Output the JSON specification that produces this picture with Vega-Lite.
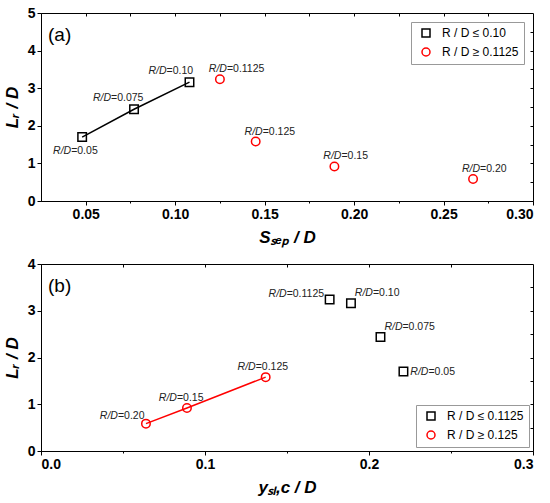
{
  "$schema": "https://vega.github.io/schema/vega-lite/v6.json",
  "padding": {"left": 2, "top": 5, "right": 5, "bottom": 5},
  "spacing": 10,
  "config": {
    "font": "Liberation Sans",
    "view": {"stroke": "black", "strokeWidth": 1},
    "axis": {"grid": false, "domainColor": "black", "tickColor": "black", "labelColor": "black", "titleColor": "black", "labelFontSize": 14, "labelFontWeight": "bold", "titleFontSize": 17, "titleFontWeight": "bold", "titleFontStyle": "italic", "labelFont": "Liberation Sans", "titleFont": "Liberation Sans", "tickWidth": 1, "domainWidth": 1},
    "legend": {"labelFont": "Liberation Sans", "labelFontSize": 12, "labelColor": "black", "symbolSize": 64, "symbolStrokeWidth": 1.5, "strokeColor": "#999", "fillColor": "white", "padding": 5, "rowPadding": 5, "symbolOffset": 4, "labelOffset": 10}
  },
  "datasets": {
    "a": [
      {"x": 0.048, "y": 1.70, "g": "R / D ≤ 0.10", "rd": "=0.05", "pl": "bl"},
      {"x": 0.077, "y": 2.44, "g": "R / D ≤ 0.10", "rd": "=0.075", "pl": "al"},
      {"x": 0.108, "y": 3.16, "g": "R / D ≤ 0.10", "rd": "=0.10", "pl": "al"},
      {"x": 0.125, "y": 3.24, "g": "R / D ≥ 0.1125", "rd": "=0.1125", "pl": "ar"},
      {"x": 0.145, "y": 1.58, "g": "R / D ≥ 0.1125", "rd": "=0.125", "pl": "ar"},
      {"x": 0.189, "y": 0.92, "g": "R / D ≥ 0.1125", "rd": "=0.15", "pl": "ar"},
      {"x": 0.2665, "y": 0.585, "g": "R / D ≥ 0.1125", "rd": "=0.20", "pl": "ar"}
    ],
    "b": [
      {"x": 0.221, "y": 1.70, "g": "R / D ≤ 0.1125", "rd": "=0.05", "pl": "e"},
      {"x": 0.207, "y": 2.44, "g": "R / D ≤ 0.1125", "rd": "=0.075", "pl": "ne"},
      {"x": 0.189, "y": 3.16, "g": "R / D ≤ 0.1125", "rd": "=0.10", "pl": "ne"},
      {"x": 0.176, "y": 3.24, "g": "R / D ≤ 0.1125", "rd": "=0.1125", "pl": "ww"},
      {"x": 0.137, "y": 1.58, "g": "R / D ≥ 0.125", "rd": "=0.125", "pl": "nw"},
      {"x": 0.089, "y": 0.92, "g": "R / D ≥ 0.125", "rd": "=0.15", "pl": "nw"},
      {"x": 0.064, "y": 0.585, "g": "R / D ≥ 0.125", "rd": "=0.20", "pl": "w"}
    ]
  },
  "resolve": {"scale": {"color": "independent", "shape": "independent"}},
  "vconcat": [
    {
      "width": 492, "height": 188,
      "title": {"text": "(a)", "anchor": "start", "frame": "group", "offset": -39, "dx": 7, "fontSize": 19, "fontWeight": "normal", "font": "Liberation Sans", "color": "black"},
      "data": {"name": "a"},
      "resolve": {"axis": {"x": "independent", "y": "independent"}},
      "layer": [
        {
          "transform": [{"filter": "datum.g === 'R / D ≤ 0.10'"}],
          "mark": {"type": "line", "color": "black", "strokeWidth": 1.5},
          "encoding": {
            "x": {"field": "x", "type": "quantitative", "scale": {"domain": [0.025, 0.30], "nice": false, "zero": false},
              "axis": {"orient": "top", "labels": false, "domain": false, "title": null, "tickSize": -3, "values": [0.05, 0.075, 0.1, 0.125, 0.15, 0.175, 0.2, 0.225, 0.25, 0.275]}},
            "y": {"field": "y", "type": "quantitative", "scale": {"domain": [0, 5], "nice": false},
              "axis": {"orient": "right", "labels": false, "domain": false, "title": null, "tickSize": -3, "values": [0.5, 1, 1.5, 2, 2.5, 3, 3.5, 4, 4.5]}}
          }
        },
        {
          "mark": {"type": "point", "filled": false, "strokeWidth": 1.5, "size": 72, "opacity": 1},
          "encoding": {
            "x": {"field": "x", "type": "quantitative", "scale": {"domain": [0.025, 0.30], "nice": false, "zero": false},
              "axis": {"orient": "bottom", "title": "Sₛₑₚ / D", "titlePadding": 8, "format": ".2f",
                "values": [0.05, 0.075, 0.1, 0.125, 0.15, 0.175, 0.2, 0.225, 0.25, 0.275, 0.3],
                "labelExpr": "round(datum.value*1000) % 50 !== 0 ? '' : datum.label",
                "tickSize": {"condition": {"test": "round(datum.value*1000) % 50 !== 0", "value": 2}, "value": 4}}},
            "y": {"field": "y", "type": "quantitative", "scale": {"domain": [0, 5], "nice": false},
              "axis": {"orient": "left", "title": "Lᵣ / D", "titlePadding": 6, "format": "d",
                "values": [0, 0.5, 1, 1.5, 2, 2.5, 3, 3.5, 4, 4.5, 5],
                "labelExpr": "datum.value % 1 !== 0 ? '' : datum.label",
                "tickSize": {"condition": {"test": "datum.value % 1 !== 0", "value": 2}, "value": 4}}},
            "shape": {"field": "g", "type": "nominal", "scale": {"domain": ["R / D ≤ 0.10", "R / D ≥ 0.1125"], "range": ["square", "circle"]}, "legend": {"title": null, "orient": "top-right", "offset": 9}},
            "color": {"field": "g", "type": "nominal", "scale": {"domain": ["R / D ≤ 0.10", "R / D ≥ 0.1125"], "range": ["black", "red"]}, "legend": {"title": null, "orient": "top-right", "offset": 9}}
          }
        },
        {"transform": [{"filter": "datum.pl === 'bl'"}], "mark": {"type": "text", "text": "R/D", "fontStyle": "italic", "fontSize": 10.5, "color": "#222", "align": "right", "baseline": "middle", "dx": -11, "dy": 14},
          "encoding": {"x": {"field": "x", "type": "quantitative", "axis": null}, "y": {"field": "y", "type": "quantitative", "axis": null}}},
        {"transform": [{"filter": "datum.pl === 'bl'"}], "mark": {"type": "text", "fontSize": 10.5, "color": "#222", "align": "left", "baseline": "middle", "dx": -11, "dy": 14},
          "encoding": {"x": {"field": "x", "type": "quantitative", "axis": null}, "y": {"field": "y", "type": "quantitative", "axis": null}, "text": {"field": "rd"}}},
        {"transform": [{"filter": "datum.pl === 'al'"}], "mark": {"type": "text", "text": "R/D", "fontStyle": "italic", "fontSize": 10.5, "color": "#222", "align": "right", "baseline": "middle", "dx": -23, "dy": -11},
          "encoding": {"x": {"field": "x", "type": "quantitative", "axis": null}, "y": {"field": "y", "type": "quantitative", "axis": null}}},
        {"transform": [{"filter": "datum.pl === 'al'"}], "mark": {"type": "text", "fontSize": 10.5, "color": "#222", "align": "left", "baseline": "middle", "dx": -23, "dy": -11},
          "encoding": {"x": {"field": "x", "type": "quantitative", "axis": null}, "y": {"field": "y", "type": "quantitative", "axis": null}, "text": {"field": "rd"}}},
        {"transform": [{"filter": "datum.pl === 'ar'"}], "mark": {"type": "text", "text": "R/D", "fontStyle": "italic", "fontSize": 10.5, "color": "#222", "align": "right", "baseline": "middle", "dx": 7, "dy": -10},
          "encoding": {"x": {"field": "x", "type": "quantitative", "axis": null}, "y": {"field": "y", "type": "quantitative", "axis": null}}},
        {"transform": [{"filter": "datum.pl === 'ar'"}], "mark": {"type": "text", "fontSize": 10.5, "color": "#222", "align": "left", "baseline": "middle", "dx": 7, "dy": -10},
          "encoding": {"x": {"field": "x", "type": "quantitative", "axis": null}, "y": {"field": "y", "type": "quantitative", "axis": null}, "text": {"field": "rd"}}}
      ]
    },
    {
      "width": 492, "height": 187,
      "title": {"text": "(b)", "anchor": "start", "frame": "group", "offset": -39, "dx": 7, "fontSize": 19, "fontWeight": "normal", "font": "Liberation Sans", "color": "black"},
      "data": {"name": "b"},
      "resolve": {"axis": {"x": "independent", "y": "independent"}},
      "layer": [
        {
          "transform": [{"filter": "datum.g === 'R / D ≥ 0.125'"}],
          "mark": {"type": "line", "color": "red", "strokeWidth": 1.5},
          "encoding": {
            "x": {"field": "x", "type": "quantitative", "scale": {"domain": [0, 0.3], "nice": false, "zero": false},
              "axis": {"orient": "top", "labels": false, "domain": false, "title": null, "tickSize": -3, "values": [0.05, 0.1, 0.15, 0.2, 0.25]}},
            "y": {"field": "y", "type": "quantitative", "scale": {"domain": [0, 4], "nice": false},
              "axis": {"orient": "right", "labels": false, "domain": false, "title": null, "tickSize": -3, "values": [0.5, 1, 1.5, 2, 2.5, 3, 3.5]}}
          }
        },
        {
          "mark": {"type": "point", "filled": false, "strokeWidth": 1.5, "size": 72, "opacity": 1},
          "encoding": {
            "x": {"field": "x", "type": "quantitative", "scale": {"domain": [0, 0.3], "nice": false, "zero": false},
              "axis": {"orient": "bottom", "title": "yₛₗ,c / D", "titlePadding": 8, "format": ".1f",
                "values": [0, 0.05, 0.1, 0.15, 0.2, 0.25, 0.3],
                "labelExpr": "round(datum.value*100) % 10 !== 0 ? '' : datum.label",
                "tickSize": {"condition": {"test": "round(datum.value*100) % 10 !== 0", "value": 2}, "value": 4}}},
            "y": {"field": "y", "type": "quantitative", "scale": {"domain": [0, 4], "nice": false},
              "axis": {"orient": "left", "title": "Lᵣ / D", "titlePadding": 6, "format": "d",
                "values": [0, 0.5, 1, 1.5, 2, 2.5, 3, 3.5, 4],
                "labelExpr": "datum.value % 1 !== 0 ? '' : datum.label",
                "tickSize": {"condition": {"test": "datum.value % 1 !== 0", "value": 2}, "value": 4}}},
            "shape": {"field": "g", "type": "nominal", "scale": {"domain": ["R / D ≤ 0.1125", "R / D ≥ 0.125"], "range": ["square", "circle"]}, "legend": {"title": null, "orient": "bottom-right", "offset": 4}},
            "color": {"field": "g", "type": "nominal", "scale": {"domain": ["R / D ≤ 0.1125", "R / D ≥ 0.125"], "range": ["black", "red"]}, "legend": {"title": null, "orient": "bottom-right", "offset": 4}}
          }
        },
        {"transform": [{"filter": "datum.pl === 'e'"}], "mark": {"type": "text", "text": "R/D", "fontStyle": "italic", "fontSize": 10.5, "color": "#222", "align": "right", "baseline": "middle", "dx": 25, "dy": 0},
          "encoding": {"x": {"field": "x", "type": "quantitative", "axis": null}, "y": {"field": "y", "type": "quantitative", "axis": null}}},
        {"transform": [{"filter": "datum.pl === 'e'"}], "mark": {"type": "text", "fontSize": 10.5, "color": "#222", "align": "left", "baseline": "middle", "dx": 25, "dy": 0},
          "encoding": {"x": {"field": "x", "type": "quantitative", "axis": null}, "y": {"field": "y", "type": "quantitative", "axis": null}, "text": {"field": "rd"}}},
        {"transform": [{"filter": "datum.pl === 'ne'"}], "mark": {"type": "text", "text": "R/D", "fontStyle": "italic", "fontSize": 10.5, "color": "#222", "align": "right", "baseline": "middle", "dx": 22, "dy": -10},
          "encoding": {"x": {"field": "x", "type": "quantitative", "axis": null}, "y": {"field": "y", "type": "quantitative", "axis": null}}},
        {"transform": [{"filter": "datum.pl === 'ne'"}], "mark": {"type": "text", "fontSize": 10.5, "color": "#222", "align": "left", "baseline": "middle", "dx": 22, "dy": -10},
          "encoding": {"x": {"field": "x", "type": "quantitative", "axis": null}, "y": {"field": "y", "type": "quantitative", "axis": null}, "text": {"field": "rd"}}},
        {"transform": [{"filter": "datum.pl === 'ww'"}], "mark": {"type": "text", "text": "R/D", "fontStyle": "italic", "fontSize": 10.5, "color": "#222", "align": "right", "baseline": "middle", "dx": -43, "dy": -6},
          "encoding": {"x": {"field": "x", "type": "quantitative", "axis": null}, "y": {"field": "y", "type": "quantitative", "axis": null}}},
        {"transform": [{"filter": "datum.pl === 'ww'"}], "mark": {"type": "text", "fontSize": 10.5, "color": "#222", "align": "left", "baseline": "middle", "dx": -43, "dy": -6},
          "encoding": {"x": {"field": "x", "type": "quantitative", "axis": null}, "y": {"field": "y", "type": "quantitative", "axis": null}, "text": {"field": "rd"}}},
        {"transform": [{"filter": "datum.pl === 'nw'"}], "mark": {"type": "text", "text": "R/D", "fontStyle": "italic", "fontSize": 10.5, "color": "#222", "align": "right", "baseline": "middle", "dx": -10, "dy": -10},
          "encoding": {"x": {"field": "x", "type": "quantitative", "axis": null}, "y": {"field": "y", "type": "quantitative", "axis": null}}},
        {"transform": [{"filter": "datum.pl === 'nw'"}], "mark": {"type": "text", "fontSize": 10.5, "color": "#222", "align": "left", "baseline": "middle", "dx": -10, "dy": -10},
          "encoding": {"x": {"field": "x", "type": "quantitative", "axis": null}, "y": {"field": "y", "type": "quantitative", "axis": null}, "text": {"field": "rd"}}},
        {"transform": [{"filter": "datum.pl === 'w'"}], "mark": {"type": "text", "text": "R/D", "fontStyle": "italic", "fontSize": 10.5, "color": "#222", "align": "right", "baseline": "middle", "dx": -28, "dy": -8},
          "encoding": {"x": {"field": "x", "type": "quantitative", "axis": null}, "y": {"field": "y", "type": "quantitative", "axis": null}}},
        {"transform": [{"filter": "datum.pl === 'w'"}], "mark": {"type": "text", "fontSize": 10.5, "color": "#222", "align": "left", "baseline": "middle", "dx": -28, "dy": -8},
          "encoding": {"x": {"field": "x", "type": "quantitative", "axis": null}, "y": {"field": "y", "type": "quantitative", "axis": null}, "text": {"field": "rd"}}}
      ]
    }
  ]
}
